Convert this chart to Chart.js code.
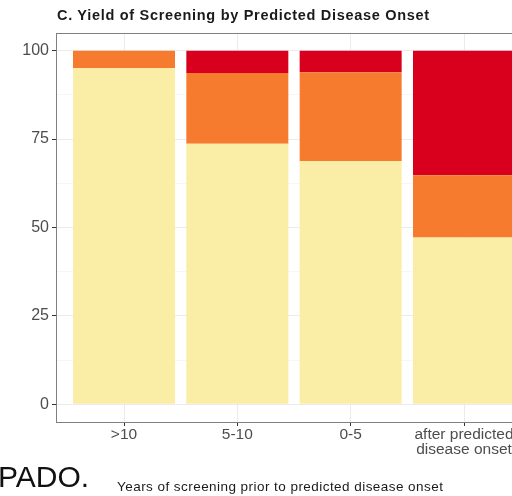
<!DOCTYPE html>
<html>
<head>
<meta charset="utf-8">
<script src="https://cdn.jsdelivr.net/npm/chart.js@4.4.1/dist/chart.umd.min.js"></script>
<style>
  html, body { margin: 0; padding: 0; width: 512px; height: 496px; overflow: hidden; background: #ffffff; }
  #wrap { position: relative; width: 512px; height: 496px; overflow: hidden; }
  canvas { position: absolute; left: 0; top: 0; }
  .txt { position: absolute; white-space: nowrap; font-family: "Liberation Sans", Arial, sans-serif; }
  #title { left: 57px; top: 7px; font-size: 14.5px; letter-spacing: 0.7px; font-weight: bold; color: #1a1a1a; }
  #xtitle { left: 117px; top: 479px; font-size: 13.5px; letter-spacing: 0.45px; color: #1a1a1a; }
  #pado { left: -2px; top: 460px; font-size: 30px; color: #111; }
</style>
</head>
<body>
<div id="wrap">
  <canvas id="c" width="560" height="496"></canvas>
  <div class="txt" id="title">C. Yield of Screening by Predicted Disease Onset</div>
  <div class="txt" id="xtitle">Years of screening prior to predicted disease onset</div>
  <div class="txt" id="pado">PADO.</div>
</div>
<script>
// Categories (x positions 1..4) and their tick labels
const categories = [">10", "5-10", "0-5", ["after predicted", "disease onset"]];
const categoryPositions = [1, 2, 3, 4];

// Stacked percentages per category (bottom to top)
const yellowValues = [95.0, 73.7, 68.8, 47.2];
const orangeValues = [5.0, 20.0, 25.1, 17.6];
const redValues = [0.0, 6.3, 6.1, 35.2];

// Y axis ticks
const yMajorTicks = [0, 25, 50, 75, 100];
const yAllTicks = [0, 12.5, 25, 37.5, 50, 62.5, 75, 87.5, 100];

const colors = { yellow: "#FAEEA6", orange: "#F67B2E", red: "#D8001D" };

function toPoints(vals) {
  return vals.map((v, i) => ({ x: categoryPositions[i], y: v }));
}

const panelBorder = {
  id: "panelBorder",
  afterDraw(chart) {
    const a = chart.chartArea;
    const ctx = chart.ctx;
    ctx.save();
    ctx.strokeStyle = "#808080";
    ctx.lineWidth = 1;
    ctx.strokeRect(Math.round(a.left) + 0.5, Math.round(a.top) + 0.5, Math.round(a.right - a.left), Math.round(a.bottom - a.top));
    ctx.restore();
  }
};

const isMajor = v => yMajorTicks.includes(v);

new Chart(document.getElementById("c"), {
  type: "bar",
  data: {
    datasets: [
      { label: "yellow", data: toPoints(yellowValues), backgroundColor: colors.yellow },
      { label: "orange", data: toPoints(orangeValues), backgroundColor: colors.orange },
      { label: "red", data: toPoints(redValues), backgroundColor: colors.red }
    ]
  },
  options: {
    responsive: false,
    animation: false,
    layout: { padding: { left: 0, top: 33, right: 28, bottom: 34 } },
    plugins: { legend: { display: false }, tooltip: { enabled: false }, title: { display: false } },
    datasets: { bar: { categoryPercentage: 1.0, barPercentage: 0.9, borderWidth: 0 } },
    scales: {
      x: {
        type: "linear",
        stacked: true,
        offset: false,
        min: 0.4,
        max: 4.6,
        afterBuildTicks: s => { s.ticks = categoryPositions.map(v => ({ value: v })); },
        afterFit: s => { s.height = 40; },
        ticks: {
          autoSkip: false,
          maxRotation: 0,
          padding: 1.5,
          color: "#4D4D4D",
          font: { family: "Liberation Sans", size: 15.5, lineHeight: 0.95 },
          callback: v => categories[categoryPositions.indexOf(v)]
        },
        grid: { offset: false, color: "#EBEBEB", tickColor: "#333333", tickLength: 4, lineWidth: 1 },
        border: { display: false }
      },
      y: {
        stacked: true,
        min: -5,
        max: 105,
        afterBuildTicks: s => { s.ticks = yAllTicks.map(v => ({ value: v })); },
        afterFit: s => { s.width = 56; },
        ticks: {
          autoSkip: false,
          padding: 3,
          color: "#4D4D4D",
          font: { family: "Liberation Sans", size: 16 },
          callback: v => (isMajor(v) ? String(v) : "")
        },
        grid: {
          color: c => (isMajor(c.tick.value) ? "#EBEBEB" : "#F6F6F6"),
          tickColor: c => (isMajor(c.tick.value) ? "#333333" : "rgba(0,0,0,0)"),
          tickLength: 4,
          lineWidth: 1
        },
        border: { display: false }
      }
    }
  },
  plugins: [panelBorder]
});
</script>
</body>
</html>
